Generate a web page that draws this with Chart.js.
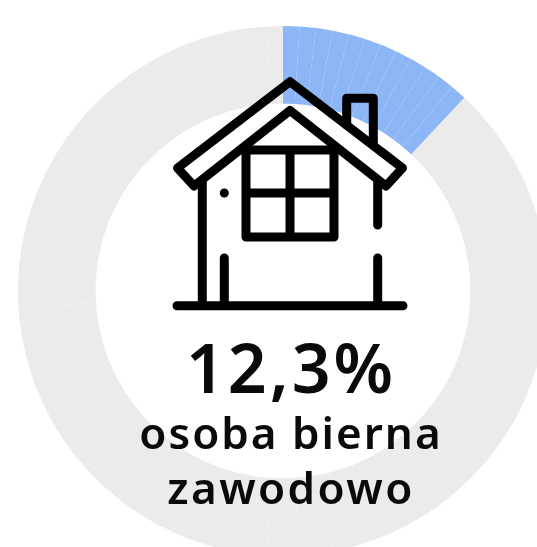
<!DOCTYPE html>
<html lang="pl"><head><meta charset="utf-8">
<script src="https://cdn.jsdelivr.net/npm/chart.js@4"></script>
<style>
html,body{margin:0;padding:0;background:#fff;overflow:hidden;width:537px;height:547px}
#c{position:absolute;left:-17px;top:-9px}
svg{position:absolute;left:0;top:0}
.t{position:absolute;left:0;width:582px;text-align:center;white-space:nowrap;color:#0a0a0a;font-family:"Noto Sans",sans-serif;font-weight:600;line-height:1}
</style></head><body>
<canvas id="c" width="600" height="600"></canvas>
<svg width="537" height="547" fill="none" stroke="#000" stroke-width="9" stroke-linecap="round" stroke-linejoin="round">
<path d="M346.7 125V98.3H373.3V145"/>
<path d="M290 81.7L402.5 168L386 186L290 110.5L194 186L177.5 168Z"/>
<path d="M246 150H334V237H246ZM290 150V237M246 193H334"/>
<path d="M202.3 182V305.7M224.3 258V305.7M377.7 258V305.7M377.7 182V225M177 305.7H403"/>
<circle cx="224.3" cy="193" r="4.5" fill="#000" stroke="none"/>
</svg>
<div class="t" style="top:333px;font-size:68px;letter-spacing:3px">12,3%</div>
<div class="t" style="top:410px;font-size:44px;letter-spacing:2px">osoba bierna</div>
<div class="t" style="top:465px;font-size:44px;letter-spacing:2.4px">zawodowo</div>
<script>
const partLabel = "osoba bierna zawodowo";
const partCells = [1,1,1,1,1,1,1,1,1,1,1,1];
const restCells = [
 1,1,1,1,1,1,1,1,1,1,1,1,1,1,1,1,1,1,1,1,1,1,
 1,1,1,1,1,1,1,1,1,1,1,1,1,1,1,1,1,1,1,1,1,1,
 1,1,1,1,1,1,1,1,1,1,1,1,1,1,1,1,1,1,1,1,1,1,
 1,1,1,1,1,1,1,1,1,1,1,1,1,1,1,1,1,1,1,1,1,1];
const partColor = "#8cb6f5";
const restColor = "#ebebeb";
new Chart(document.getElementById("c"), {
  type: "doughnut",
  data: {
    labels: partCells.map(() => partLabel).concat(restCells.map(() => "pozostali")),
    datasets: [{
      data: partCells.concat(restCells),
      backgroundColor: partCells.map(() => partColor).concat(restCells.map(() => restColor)),
      borderWidth: 0
    }]
  },
  options: {
    responsive: false, animation: false, cutout: "70.7%",
    layout: { padding: 35 },
    plugins: { legend: { display: false }, tooltip: { enabled: false } }
  }
});
</script>
</body></html>
